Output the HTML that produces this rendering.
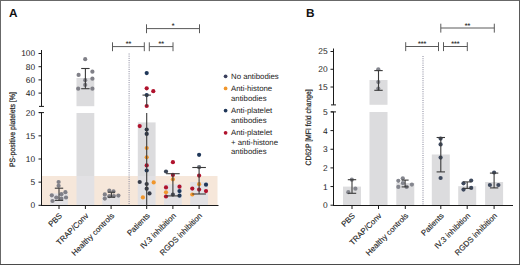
<!DOCTYPE html>
<html><head><meta charset="utf-8"><style>
html,body{margin:0;padding:0;background:#fff;}
body{width:520px;height:265px;overflow:hidden;}
svg{display:block;font-family:"Liberation Sans", sans-serif;}
text{text-rendering:geometricPrecision;}
.xl{stroke:#222;stroke-width:0.12px;}
</style></head><body>
<svg width="520" height="265" viewBox="0 0 520 265">
<rect x="0" y="0" width="520" height="265" fill="#fff"/>
<rect x="41.50" y="176.00" width="176.00" height="29.50" fill="#f6e7da"/>
<rect x="50.10" y="193.50" width="17.80" height="12.00" fill="#e2e1e4"/>
<rect x="76.50" y="113.00" width="17.80" height="63.00" fill="#dcdcde"/>
<rect x="76.50" y="176.00" width="17.80" height="29.50" fill="#e2e1e4"/>
<rect x="76.50" y="78.00" width="17.80" height="28.20" fill="#dcdcde"/>
<rect x="102.20" y="196.00" width="17.80" height="9.50" fill="#e2e1e4"/>
<rect x="137.80" y="122.40" width="17.80" height="53.60" fill="#dcdcde"/>
<rect x="137.80" y="176.00" width="17.80" height="29.50" fill="#e2e1e4"/>
<rect x="164.00" y="184.20" width="17.80" height="21.30" fill="#e2e1e4"/>
<rect x="190.20" y="182.00" width="17.80" height="23.50" fill="#e2e1e4"/>
<line x1="129.1" y1="53.5" x2="129.1" y2="205" stroke="#85859a" stroke-width="1" stroke-dasharray="1 1.2"/>
<line x1="41.50" y1="50.00" x2="41.50" y2="106.40" stroke="#1a1a1a" stroke-width="1"/>
<line x1="41.50" y1="112.60" x2="41.50" y2="205.50" stroke="#1a1a1a" stroke-width="1"/>
<line x1="38.50" y1="53.50" x2="41.50" y2="53.50" stroke="#1a1a1a" stroke-width="1"/>
<text x="35.20" y="56.45" font-size="8.4" text-anchor="end" font-weight="normal" fill="#222" >100</text>
<line x1="38.50" y1="66.70" x2="41.50" y2="66.70" stroke="#1a1a1a" stroke-width="1"/>
<text x="35.20" y="69.65" font-size="8.4" text-anchor="end" font-weight="normal" fill="#222" >80</text>
<line x1="38.50" y1="79.90" x2="41.50" y2="79.90" stroke="#1a1a1a" stroke-width="1"/>
<text x="35.20" y="82.85" font-size="8.4" text-anchor="end" font-weight="normal" fill="#222" >60</text>
<line x1="38.50" y1="93.10" x2="41.50" y2="93.10" stroke="#1a1a1a" stroke-width="1"/>
<text x="35.20" y="96.05" font-size="8.4" text-anchor="end" font-weight="normal" fill="#222" >40</text>
<line x1="39.00" y1="106.40" x2="44.00" y2="106.40" stroke="#1a1a1a" stroke-width="1"/>
<line x1="39.00" y1="112.60" x2="44.00" y2="112.60" stroke="#1a1a1a" stroke-width="1"/>
<line x1="38.50" y1="112.60" x2="41.50" y2="112.60" stroke="#1a1a1a" stroke-width="1"/>
<text x="35.20" y="115.55" font-size="8.4" text-anchor="end" font-weight="normal" fill="#222" >20</text>
<line x1="38.50" y1="135.85" x2="41.50" y2="135.85" stroke="#1a1a1a" stroke-width="1"/>
<text x="35.20" y="138.80" font-size="8.4" text-anchor="end" font-weight="normal" fill="#222" >15</text>
<line x1="38.50" y1="159.00" x2="41.50" y2="159.00" stroke="#1a1a1a" stroke-width="1"/>
<text x="35.20" y="161.95" font-size="8.4" text-anchor="end" font-weight="normal" fill="#222" >10</text>
<line x1="38.50" y1="182.15" x2="41.50" y2="182.15" stroke="#1a1a1a" stroke-width="1"/>
<text x="35.20" y="185.10" font-size="8.4" text-anchor="end" font-weight="normal" fill="#222" >5</text>
<line x1="38.50" y1="205.30" x2="41.50" y2="205.30" stroke="#1a1a1a" stroke-width="1"/>
<text x="35.20" y="208.25" font-size="8.4" text-anchor="end" font-weight="normal" fill="#222" >0</text>
<line x1="41.00" y1="205.50" x2="218.50" y2="205.50" stroke="#1a1a1a" stroke-width="1"/>
<line x1="59.00" y1="205.50" x2="59.00" y2="209.00" stroke="#1a1a1a" stroke-width="1"/>
<line x1="85.40" y1="205.50" x2="85.40" y2="209.00" stroke="#1a1a1a" stroke-width="1"/>
<line x1="111.10" y1="205.50" x2="111.10" y2="209.00" stroke="#1a1a1a" stroke-width="1"/>
<line x1="146.70" y1="205.50" x2="146.70" y2="209.00" stroke="#1a1a1a" stroke-width="1"/>
<line x1="172.90" y1="205.50" x2="172.90" y2="209.00" stroke="#1a1a1a" stroke-width="1"/>
<line x1="199.10" y1="205.50" x2="199.10" y2="209.00" stroke="#1a1a1a" stroke-width="1"/>
<text transform="translate(15.4,129.6) rotate(-90)" font-size="7.8" text-anchor="middle" fill="#222" stroke="#222" stroke-width="0.2" textLength="75" lengthAdjust="spacingAndGlyphs">PS-positive platelets [%]</text>
<text transform="translate(62.60,216.2) rotate(-45)" font-size="7.9" text-anchor="end" fill="#222" class="xl">PBS</text>
<text transform="translate(89.00,216.2) rotate(-45)" font-size="7.9" text-anchor="end" fill="#222" class="xl">TRAP/Conv</text>
<text transform="translate(114.70,216.2) rotate(-45)" font-size="7.9" text-anchor="end" fill="#222" class="xl">Healthy controls</text>
<text transform="translate(150.30,216.2) rotate(-45)" font-size="7.9" text-anchor="end" fill="#222" class="xl">Patients</text>
<text transform="translate(176.50,216.2) rotate(-45)" font-size="7.9" text-anchor="end" fill="#222" class="xl">IV.3 inhibition</text>
<text transform="translate(202.70,216.2) rotate(-45)" font-size="7.9" text-anchor="end" fill="#222" class="xl">RGDS inhibition</text>
<text x="9.0" y="16.8" font-size="11.8" font-weight="bold" fill="#111">A</text>
<circle cx="58.60" cy="182.00" r="2.1" fill="#808088"/>
<circle cx="58.60" cy="185.80" r="2.1" fill="#808088"/>
<circle cx="51.80" cy="195.30" r="2.1" fill="#808088"/>
<circle cx="52.50" cy="201.00" r="2.1" fill="#808088"/>
<circle cx="56.30" cy="197.50" r="2.1" fill="#808088"/>
<circle cx="61.40" cy="194.20" r="2.1" fill="#808088"/>
<circle cx="65.40" cy="192.20" r="2.1" fill="#808088"/>
<circle cx="66.00" cy="197.50" r="2.1" fill="#808088"/>
<circle cx="61.40" cy="198.70" r="2.1" fill="#808088"/>
<circle cx="85.20" cy="59.20" r="2.1" fill="#808088"/>
<circle cx="78.60" cy="74.90" r="2.1" fill="#808088"/>
<circle cx="92.40" cy="71.70" r="2.1" fill="#808088"/>
<circle cx="92.40" cy="78.70" r="2.1" fill="#808088"/>
<circle cx="85.20" cy="80.20" r="2.1" fill="#808088"/>
<circle cx="85.20" cy="84.90" r="2.1" fill="#808088"/>
<circle cx="78.20" cy="88.70" r="2.1" fill="#808088"/>
<circle cx="92.40" cy="88.70" r="2.1" fill="#808088"/>
<circle cx="109.30" cy="190.70" r="2.1" fill="#808088"/>
<circle cx="113.50" cy="191.40" r="2.1" fill="#808088"/>
<circle cx="104.80" cy="194.40" r="2.1" fill="#808088"/>
<circle cx="118.40" cy="195.60" r="2.1" fill="#808088"/>
<circle cx="104.80" cy="198.60" r="2.1" fill="#808088"/>
<circle cx="113.90" cy="196.00" r="2.1" fill="#808088"/>
<circle cx="109.30" cy="196.20" r="2.1" fill="#808088"/>
<circle cx="146.70" cy="73.10" r="2.1" fill="#1f3759"/>
<circle cx="146.70" cy="88.30" r="2.1" fill="#b0122d"/>
<circle cx="153.30" cy="91.20" r="2.1" fill="#b0122d"/>
<circle cx="146.70" cy="95.10" r="2.1" fill="#1f3759"/>
<circle cx="146.70" cy="106.00" r="2.1" fill="#b0122d"/>
<circle cx="139.70" cy="126.10" r="2.1" fill="#b0122d"/>
<circle cx="146.70" cy="129.50" r="2.1" fill="#2c3648"/>
<circle cx="146.70" cy="133.90" r="2.1" fill="#2c3648"/>
<circle cx="146.70" cy="148.00" r="2.1" fill="#f0962c"/>
<circle cx="146.70" cy="157.30" r="2.1" fill="#f0962c"/>
<circle cx="146.70" cy="165.40" r="2.1" fill="#b0122d"/>
<circle cx="146.70" cy="170.50" r="2.1" fill="#1f3759"/>
<circle cx="139.70" cy="182.00" r="2.1" fill="#383c48"/>
<circle cx="146.70" cy="184.00" r="2.1" fill="#383c48"/>
<circle cx="153.70" cy="182.40" r="2.1" fill="#f0962c"/>
<circle cx="146.70" cy="188.70" r="2.1" fill="#383c48"/>
<circle cx="149.50" cy="193.40" r="2.1" fill="#383c48"/>
<circle cx="142.90" cy="197.40" r="2.1" fill="#f0962c"/>
<circle cx="172.90" cy="162.20" r="2.1" fill="#b0122d"/>
<circle cx="166.00" cy="171.50" r="2.1" fill="#3a4456"/>
<circle cx="172.90" cy="174.90" r="2.1" fill="#b0122d"/>
<circle cx="172.90" cy="179.30" r="2.1" fill="#f0962c"/>
<circle cx="166.00" cy="187.40" r="2.1" fill="#b0122d"/>
<circle cx="166.00" cy="192.30" r="2.1" fill="#f0962c"/>
<circle cx="166.00" cy="196.50" r="2.1" fill="#b0122d"/>
<circle cx="172.90" cy="194.60" r="2.1" fill="#4a4f5c"/>
<circle cx="179.50" cy="186.70" r="2.1" fill="#b0122d"/>
<circle cx="179.50" cy="191.10" r="2.1" fill="#1f3759"/>
<circle cx="179.50" cy="195.70" r="2.1" fill="#1f3759"/>
<circle cx="199.10" cy="154.80" r="2.1" fill="#1f3759"/>
<circle cx="199.10" cy="167.20" r="2.1" fill="#666c76"/>
<circle cx="199.10" cy="175.60" r="2.1" fill="#b0122d"/>
<circle cx="199.10" cy="184.20" r="2.1" fill="#f0962c"/>
<circle cx="206.00" cy="184.70" r="2.1" fill="#1f3759"/>
<circle cx="192.30" cy="188.60" r="2.1" fill="#b0122d"/>
<circle cx="199.10" cy="189.60" r="2.1" fill="#b0122d"/>
<circle cx="206.00" cy="191.10" r="2.1" fill="#b0122d"/>
<circle cx="192.30" cy="194.50" r="2.1" fill="#f0962c"/>
<line x1="146.50" y1="28.60" x2="199.50" y2="28.60" stroke="#5a5a5a" stroke-width="1.0"/>
<line x1="146.50" y1="24.30" x2="146.50" y2="33.20" stroke="#5a5a5a" stroke-width="1.0"/>
<line x1="199.50" y1="24.30" x2="199.50" y2="33.20" stroke="#5a5a5a" stroke-width="1.0"/>
<text x="173.00" y="28.30" font-size="7" text-anchor="middle" font-weight="bold" fill="#333" >*</text>
<line x1="112.50" y1="46.60" x2="144.30" y2="46.60" stroke="#5a5a5a" stroke-width="1.0"/>
<line x1="112.50" y1="42.30" x2="112.50" y2="51.20" stroke="#5a5a5a" stroke-width="1.0"/>
<line x1="144.30" y1="42.30" x2="144.30" y2="51.20" stroke="#5a5a5a" stroke-width="1.0"/>
<text x="128.40" y="46.30" font-size="7" text-anchor="middle" font-weight="bold" fill="#333" >**</text>
<line x1="149.30" y1="46.60" x2="173.00" y2="46.60" stroke="#5a5a5a" stroke-width="1.0"/>
<line x1="149.30" y1="42.30" x2="149.30" y2="51.20" stroke="#5a5a5a" stroke-width="1.0"/>
<line x1="173.00" y1="42.30" x2="173.00" y2="51.20" stroke="#5a5a5a" stroke-width="1.0"/>
<text x="161.15" y="46.30" font-size="7" text-anchor="middle" font-weight="bold" fill="#333" >**</text>
<circle cx="225.60" cy="76.30" r="1.85" fill="#3a3f5c"/>
<text x="231.00" y="78.60" font-size="7.8" text-anchor="start" font-weight="normal" fill="#222" >No antibodies</text>
<circle cx="225.60" cy="88.40" r="1.85" fill="#f0962c"/>
<text x="231.00" y="90.70" font-size="7.8" text-anchor="start" font-weight="normal" fill="#222" >Anti-histone</text>
<text x="231.00" y="100.55" font-size="7.8" text-anchor="start" font-weight="normal" fill="#222" >antibodies</text>
<circle cx="225.60" cy="110.60" r="1.85" fill="#1f3759"/>
<text x="231.00" y="112.80" font-size="7.8" text-anchor="start" font-weight="normal" fill="#222" >Anti-platelet</text>
<text x="231.00" y="122.65" font-size="7.8" text-anchor="start" font-weight="normal" fill="#222" >antibodies</text>
<circle cx="225.60" cy="132.80" r="1.85" fill="#b0122d"/>
<text x="231.00" y="134.70" font-size="7.8" text-anchor="start" font-weight="normal" fill="#222" >Anti-platelet</text>
<text x="231.00" y="144.55" font-size="7.8" text-anchor="start" font-weight="normal" fill="#222" >+ anti-histone</text>
<text x="231.00" y="154.40" font-size="7.8" text-anchor="start" font-weight="normal" fill="#222" >antibodies</text>
<text x="305.9" y="16.8" font-size="11.8" font-weight="bold" fill="#111">B</text>
<rect x="343.00" y="186.60" width="18.00" height="18.90" fill="#dcdcde"/>
<rect x="369.50" y="112.00" width="18.00" height="93.50" fill="#dcdcde"/>
<rect x="369.50" y="80.00" width="18.00" height="24.80" fill="#dcdcde"/>
<rect x="396.30" y="183.00" width="18.00" height="22.50" fill="#dcdcde"/>
<rect x="431.80" y="154.50" width="18.00" height="51.00" fill="#dcdcde"/>
<rect x="458.20" y="186.20" width="18.00" height="19.30" fill="#dcdcde"/>
<rect x="485.10" y="182.00" width="18.00" height="23.50" fill="#dcdcde"/>
<line x1="423" y1="56" x2="423" y2="205" stroke="#85859a" stroke-width="1" stroke-dasharray="1 1.2"/>
<line x1="333.50" y1="48.50" x2="333.50" y2="104.90" stroke="#1a1a1a" stroke-width="1"/>
<line x1="333.50" y1="111.90" x2="333.50" y2="205.50" stroke="#1a1a1a" stroke-width="1"/>
<line x1="330.50" y1="51.50" x2="333.50" y2="51.50" stroke="#1a1a1a" stroke-width="1"/>
<text x="327.60" y="54.45" font-size="8.4" text-anchor="end" font-weight="normal" fill="#222" >25</text>
<line x1="330.50" y1="69.27" x2="333.50" y2="69.27" stroke="#1a1a1a" stroke-width="1"/>
<text x="327.60" y="72.22" font-size="8.4" text-anchor="end" font-weight="normal" fill="#222" >20</text>
<line x1="330.50" y1="87.03" x2="333.50" y2="87.03" stroke="#1a1a1a" stroke-width="1"/>
<text x="327.60" y="89.98" font-size="8.4" text-anchor="end" font-weight="normal" fill="#222" >15</text>
<line x1="331.00" y1="104.90" x2="336.00" y2="104.90" stroke="#1a1a1a" stroke-width="1"/>
<line x1="331.00" y1="111.90" x2="336.00" y2="111.90" stroke="#1a1a1a" stroke-width="1"/>
<line x1="330.50" y1="111.90" x2="333.50" y2="111.90" stroke="#1a1a1a" stroke-width="1"/>
<text x="327.60" y="114.85" font-size="8.4" text-anchor="end" font-weight="normal" fill="#222" >5</text>
<line x1="330.50" y1="130.60" x2="333.50" y2="130.60" stroke="#1a1a1a" stroke-width="1"/>
<text x="327.60" y="133.55" font-size="8.4" text-anchor="end" font-weight="normal" fill="#222" >4</text>
<line x1="330.50" y1="149.25" x2="333.50" y2="149.25" stroke="#1a1a1a" stroke-width="1"/>
<text x="327.60" y="152.20" font-size="8.4" text-anchor="end" font-weight="normal" fill="#222" >3</text>
<line x1="330.50" y1="167.90" x2="333.50" y2="167.90" stroke="#1a1a1a" stroke-width="1"/>
<text x="327.60" y="170.85" font-size="8.4" text-anchor="end" font-weight="normal" fill="#222" >2</text>
<line x1="330.50" y1="186.55" x2="333.50" y2="186.55" stroke="#1a1a1a" stroke-width="1"/>
<text x="327.60" y="189.50" font-size="8.4" text-anchor="end" font-weight="normal" fill="#222" >1</text>
<line x1="330.50" y1="205.20" x2="333.50" y2="205.20" stroke="#1a1a1a" stroke-width="1"/>
<text x="327.60" y="208.15" font-size="8.4" text-anchor="end" font-weight="normal" fill="#222" >0</text>
<line x1="333.00" y1="205.50" x2="513.00" y2="205.50" stroke="#1a1a1a" stroke-width="1"/>
<line x1="352.00" y1="205.50" x2="352.00" y2="209.00" stroke="#1a1a1a" stroke-width="1"/>
<line x1="378.50" y1="205.50" x2="378.50" y2="209.00" stroke="#1a1a1a" stroke-width="1"/>
<line x1="405.30" y1="205.50" x2="405.30" y2="209.00" stroke="#1a1a1a" stroke-width="1"/>
<line x1="440.80" y1="205.50" x2="440.80" y2="209.00" stroke="#1a1a1a" stroke-width="1"/>
<line x1="467.20" y1="205.50" x2="467.20" y2="209.00" stroke="#1a1a1a" stroke-width="1"/>
<line x1="494.10" y1="205.50" x2="494.10" y2="209.00" stroke="#1a1a1a" stroke-width="1"/>
<text transform="translate(310.8,127.4) rotate(-90)" font-size="7.8" text-anchor="middle" fill="#222" stroke="#222" stroke-width="0.2" textLength="76.2" lengthAdjust="spacingAndGlyphs">CD62P [MFI fold change]</text>
<text transform="translate(355.60,216.2) rotate(-45)" font-size="7.9" text-anchor="end" fill="#222" class="xl">PBS</text>
<text transform="translate(382.10,216.2) rotate(-45)" font-size="7.9" text-anchor="end" fill="#222" class="xl">TRAP/Conv</text>
<text transform="translate(408.90,216.2) rotate(-45)" font-size="7.9" text-anchor="end" fill="#222" class="xl">Healthy controls</text>
<text transform="translate(444.40,216.2) rotate(-45)" font-size="7.9" text-anchor="end" fill="#222" class="xl">Patients</text>
<text transform="translate(470.80,216.2) rotate(-45)" font-size="7.9" text-anchor="end" fill="#222" class="xl">IV.3 inhibition</text>
<text transform="translate(497.70,216.2) rotate(-45)" font-size="7.9" text-anchor="end" fill="#222" class="xl">RGDS inhibition</text>
<circle cx="351.80" cy="179.70" r="2.1" fill="#84868e"/>
<circle cx="348.30" cy="192.20" r="2.1" fill="#84868e"/>
<circle cx="355.40" cy="188.70" r="2.1" fill="#84868e"/>
<circle cx="378.30" cy="69.30" r="2.1" fill="#84868e"/>
<circle cx="378.30" cy="82.10" r="2.1" fill="#84868e"/>
<circle cx="378.30" cy="88.50" r="2.1" fill="#84868e"/>
<circle cx="398.30" cy="180.80" r="2.1" fill="#84868e"/>
<circle cx="402.80" cy="178.30" r="2.1" fill="#84868e"/>
<circle cx="402.80" cy="183.10" r="2.1" fill="#84868e"/>
<circle cx="398.30" cy="186.90" r="2.1" fill="#84868e"/>
<circle cx="406.60" cy="186.90" r="2.1" fill="#84868e"/>
<circle cx="411.90" cy="184.60" r="2.1" fill="#84868e"/>
<circle cx="440.60" cy="138.60" r="2.1" fill="#3f4a5e"/>
<circle cx="440.60" cy="144.40" r="2.1" fill="#3f4a5e"/>
<circle cx="440.60" cy="157.60" r="2.1" fill="#3f4a5e"/>
<circle cx="440.60" cy="178.00" r="2.1" fill="#3f4a5e"/>
<circle cx="463.50" cy="183.30" r="2.1" fill="#3f4a5e"/>
<circle cx="471.20" cy="180.50" r="2.1" fill="#3f4a5e"/>
<circle cx="463.50" cy="189.60" r="2.1" fill="#3f4a5e"/>
<circle cx="471.20" cy="187.90" r="2.1" fill="#3f4a5e"/>
<circle cx="494.10" cy="172.50" r="2.1" fill="#3f4a5e"/>
<circle cx="489.90" cy="185.00" r="2.1" fill="#3f4a5e"/>
<circle cx="498.40" cy="185.00" r="2.1" fill="#3f4a5e"/>
<line x1="440.80" y1="28.00" x2="494.30" y2="28.00" stroke="#5a5a5a" stroke-width="1.0"/>
<line x1="440.80" y1="23.70" x2="440.80" y2="32.60" stroke="#5a5a5a" stroke-width="1.0"/>
<line x1="494.30" y1="23.70" x2="494.30" y2="32.60" stroke="#5a5a5a" stroke-width="1.0"/>
<text x="467.55" y="27.80" font-size="7" text-anchor="middle" font-weight="bold" fill="#333" >**</text>
<line x1="405.70" y1="46.50" x2="438.50" y2="46.50" stroke="#5a5a5a" stroke-width="1.0"/>
<line x1="405.70" y1="42.20" x2="405.70" y2="51.10" stroke="#5a5a5a" stroke-width="1.0"/>
<line x1="438.50" y1="42.20" x2="438.50" y2="51.10" stroke="#5a5a5a" stroke-width="1.0"/>
<text x="422.10" y="46.30" font-size="7" text-anchor="middle" font-weight="bold" fill="#333" >***</text>
<line x1="443.50" y1="46.50" x2="467.30" y2="46.50" stroke="#5a5a5a" stroke-width="1.0"/>
<line x1="443.50" y1="42.20" x2="443.50" y2="51.10" stroke="#5a5a5a" stroke-width="1.0"/>
<line x1="467.30" y1="42.20" x2="467.30" y2="51.10" stroke="#5a5a5a" stroke-width="1.0"/>
<text x="455.40" y="46.30" font-size="7" text-anchor="middle" font-weight="bold" fill="#333" >***</text>
<line x1="59.00" y1="188.20" x2="59.00" y2="200.40" stroke="#3a3a3a" stroke-width="1.1"/>
<line x1="54.80" y1="188.20" x2="63.20" y2="188.20" stroke="#3a3a3a" stroke-width="1.1"/>
<line x1="54.80" y1="200.40" x2="63.20" y2="200.40" stroke="#3a3a3a" stroke-width="1.1"/>
<line x1="85.40" y1="68.50" x2="85.40" y2="88.70" stroke="#3a3a3a" stroke-width="1.1"/>
<line x1="81.20" y1="68.50" x2="89.60" y2="68.50" stroke="#3a3a3a" stroke-width="1.1"/>
<line x1="81.20" y1="88.70" x2="89.60" y2="88.70" stroke="#3a3a3a" stroke-width="1.1"/>
<line x1="111.40" y1="192.20" x2="111.40" y2="197.20" stroke="#3a3a3a" stroke-width="1.1"/>
<line x1="107.80" y1="192.20" x2="115.00" y2="192.20" stroke="#3a3a3a" stroke-width="1.1"/>
<line x1="107.80" y1="197.20" x2="115.00" y2="197.20" stroke="#3a3a3a" stroke-width="1.1"/>
<line x1="146.70" y1="95.10" x2="146.70" y2="106.20" stroke="#3a3a3a" stroke-width="1.1"/>
<line x1="142.50" y1="95.10" x2="150.90" y2="95.10" stroke="#3a3a3a" stroke-width="1.1"/>
<line x1="146.70" y1="113" x2="146.70" y2="205.5" stroke="#3a3a3a" stroke-width="1.1"/>
<line x1="172.90" y1="173.70" x2="172.90" y2="195.90" stroke="#3a3a3a" stroke-width="1.1"/>
<line x1="166.10" y1="173.70" x2="179.70" y2="173.70" stroke="#3a3a3a" stroke-width="1.1"/>
<line x1="166.10" y1="195.90" x2="179.70" y2="195.90" stroke="#3a3a3a" stroke-width="1.1"/>
<line x1="199.10" y1="167.50" x2="199.10" y2="194.00" stroke="#3a3a3a" stroke-width="1.1"/>
<line x1="192.30" y1="167.50" x2="205.90" y2="167.50" stroke="#3a3a3a" stroke-width="1.1"/>
<line x1="192.30" y1="194.00" x2="205.90" y2="194.00" stroke="#3a3a3a" stroke-width="1.1"/>
<line x1="352.00" y1="179.70" x2="352.00" y2="193.30" stroke="#3a3a3a" stroke-width="1.1"/>
<line x1="347.80" y1="179.70" x2="356.20" y2="179.70" stroke="#3a3a3a" stroke-width="1.1"/>
<line x1="347.80" y1="193.30" x2="356.20" y2="193.30" stroke="#3a3a3a" stroke-width="1.1"/>
<line x1="378.50" y1="70.60" x2="378.50" y2="90.30" stroke="#3a3a3a" stroke-width="1.1"/>
<line x1="374.30" y1="70.60" x2="382.70" y2="70.60" stroke="#3a3a3a" stroke-width="1.1"/>
<line x1="374.30" y1="90.30" x2="382.70" y2="90.30" stroke="#3a3a3a" stroke-width="1.1"/>
<line x1="405.10" y1="180.10" x2="405.10" y2="186.90" stroke="#3a3a3a" stroke-width="1.1"/>
<line x1="401.60" y1="180.10" x2="408.60" y2="180.10" stroke="#3a3a3a" stroke-width="1.1"/>
<line x1="401.60" y1="186.90" x2="408.60" y2="186.90" stroke="#3a3a3a" stroke-width="1.1"/>
<line x1="440.80" y1="137.50" x2="440.80" y2="171.90" stroke="#3a3a3a" stroke-width="1.1"/>
<line x1="436.60" y1="137.50" x2="445.00" y2="137.50" stroke="#3a3a3a" stroke-width="1.1"/>
<line x1="436.60" y1="171.90" x2="445.00" y2="171.90" stroke="#3a3a3a" stroke-width="1.1"/>
<line x1="467.20" y1="181.90" x2="467.20" y2="188.40" stroke="#3a3a3a" stroke-width="1.1"/>
<line x1="463.00" y1="181.90" x2="471.40" y2="181.90" stroke="#3a3a3a" stroke-width="1.1"/>
<line x1="463.00" y1="188.40" x2="471.40" y2="188.40" stroke="#3a3a3a" stroke-width="1.1"/>
<line x1="494.10" y1="173.10" x2="494.10" y2="187.90" stroke="#3a3a3a" stroke-width="1.1"/>
<line x1="489.90" y1="173.10" x2="498.30" y2="173.10" stroke="#3a3a3a" stroke-width="1.1"/>
<line x1="489.90" y1="187.90" x2="498.30" y2="187.90" stroke="#3a3a3a" stroke-width="1.1"/>
<rect x="0" y="0" width="520" height="1" fill="#686868"/><rect x="0" y="0" width="1" height="265" fill="#686868"/><rect x="519" y="0" width="1" height="265" fill="#5a5a5a"/><rect x="0" y="264" width="520" height="1" fill="#4a4a4a"/>
</svg>
</body></html>
